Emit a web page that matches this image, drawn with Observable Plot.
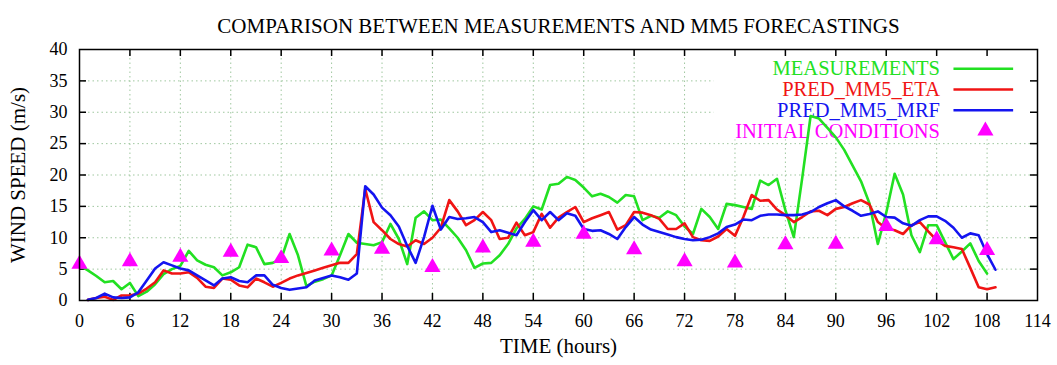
<!DOCTYPE html>
<html>
<head>
<meta charset="utf-8">
<script src="https://cdn.jsdelivr.net/npm/d3@7"></script>
<script src="https://cdn.jsdelivr.net/npm/@observablehq/plot@0.6"></script>
<style>
  html, body { margin: 0; padding: 0; background: #fff; }
  svg { display: block; }
</style>
</head>
<body>
<div id="chart"></div>
<script>
// ---------- data ----------
const titleText = "COMPARISON BETWEEN MEASUREMENTS AND MM5 FORECASTINGS";
const xLabel = "TIME (hours)";
const yLabel = "WIND SPEED (m/s)";

const xTicks = [0, 6, 12, 18, 24, 30, 36, 42, 48, 54, 60, 66, 72, 78, 84, 90, 96, 102, 108, 114];
const yTicks = [0, 5, 10, 15, 20, 25, 30, 35, 40];

// hourly series; first value at the given start hour
const measStart = 0;
const measurements = [
  5.6, 4.8, 3.9, 2.9, 3.1, 1.8, 2.8, 0.7, 1.4, 2.6,
  4.2, 5.0, 5.5, 7.9, 6.4, 5.7, 5.3, 4.0, 4.5, 5.3,
  8.9, 8.5, 5.8, 6.0, 6.6, 10.6, 7.2, 2.3, 3.0, 3.4,
  4.0, 7.2, 10.6, 9.2, 9.0, 8.8, 9.3, 12.2, 9.8, 5.8,
  13.2, 14.2, 12.8, 12.9, 11.5, 10.0, 8.0, 5.2, 5.9, 6.0,
  7.2, 9.0, 11.5, 13.0, 15.0, 14.5, 18.4, 18.6, 19.7, 19.2,
  18.0, 16.6, 17.0, 16.5, 15.6, 16.8, 16.6, 12.8, 13.5, 13.2,
  14.2, 13.6, 11.8, 10.6, 14.6, 13.3, 11.4, 15.4, 15.2, 14.9,
  14.6, 19.1, 18.4, 19.4, 14.4, 10.1, 19.5, 29.4, 29.0, 27.5,
  26.0, 24.0, 21.5, 19.0, 15.5, 9.0, 14.0, 20.2, 16.9, 10.4,
  7.7, 12.0, 12.0, 9.3, 6.6, 7.8, 9.1, 6.3, 4.3
];

const etaStart = 1;
const predEta = [
  0.1, 0.4, 0.6, 0.1, 0.8, 0.8, 1.1, 1.9, 2.9, 4.8,
  4.3, 4.3, 4.5, 3.6, 2.2, 2.0, 3.5, 3.3, 2.4, 2.1,
  3.5, 2.9, 2.2, 2.8, 3.5, 4.0, 4.4, 4.8, 5.2, 5.6,
  6.0, 6.0, 7.4, 17.8, 12.5, 11.2, 9.8, 9.0, 8.6, 9.6,
  9.0, 10.0, 11.6, 16.0, 14.2, 12.0, 12.8, 14.1, 12.8, 9.8,
  10.0, 12.4, 10.4, 10.9, 13.8, 11.6, 13.2, 14.1, 14.9, 12.5,
  13.1, 13.6, 14.1, 11.3, 12.0, 14.1, 14.0, 13.6, 13.0, 11.4,
  11.4, 12.3, 10.1, 9.6, 9.5, 10.2, 11.4, 10.3, 13.3, 16.8,
  15.9, 16.0, 14.5, 13.6, 12.5, 13.3, 14.2, 14.3, 13.6, 14.6,
  14.9, 15.5, 16.0, 15.3, 12.5, 11.5, 11.2, 10.6, 12.0, 12.5,
  11.0, 9.6, 8.7, 8.5, 8.2, 5.2, 2.1, 1.8, 2.1
];

const mrfStart = 1;
const predMrf = [
  0.1, 0.4, 1.1, 0.5, 0.4, 0.5, 1.3, 3.2, 5.1, 6.1,
  5.6, 5.1, 4.8, 4.0, 3.2, 2.4, 3.5, 3.7, 3.1, 2.9,
  4.0, 4.0, 2.5, 2.0, 1.7, 1.9, 2.1, 3.2, 3.6, 4.0,
  3.7, 3.3, 4.3, 18.2, 16.9, 14.8, 13.6, 11.8, 8.7, 6.0,
  10.1, 15.1, 11.3, 13.3, 13.0, 13.1, 13.3, 12.5, 10.9, 11.2,
  10.8, 10.4, 12.5, 14.4, 12.8, 14.1, 12.8, 13.9, 13.5, 11.4,
  11.1, 11.2, 10.6, 9.8, 11.7, 13.3, 12.1, 11.3, 10.9, 10.5,
  10.1, 9.8, 9.6, 9.7, 10.1, 10.7, 11.7, 12.1, 12.9, 12.8,
  13.5, 13.7, 13.7, 13.6, 13.6, 13.7, 14.1, 14.9, 15.5, 16.0,
  15.0, 14.3, 13.5, 13.8, 14.2, 13.3, 13.2, 12.3, 11.9, 12.8,
  13.4, 13.4, 12.7, 11.6, 10.0, 10.7, 10.4, 7.4, 4.9
];

const icTimes = [0, 6, 12, 18, 24, 30, 36, 42, 48, 54, 60, 66, 72, 78, 84, 90, 96, 102, 108];
const icValues = [5.8, 6.2, 6.9, 7.7, 6.7, 7.9, 8.2, 5.3, 8.4, 9.3, 10.6, 8.1, 6.2, 6.0, 8.9, 9.0, 11.8, 9.7, 8.0];

const seriesNames = ["MEASUREMENTS", "PRED_MM5_ETA", "PRED_MM5_MRF", "INITIAL CONDITIONS"];
const seriesColors = ["#22e022", "#f01414", "#1414f0", "#ff00ff"];

// ---------- layout ----------
const W = 1057, H = 365;
const margin = {top: 49, right: 20, bottom: 65, left: 79};
const frameW = W - margin.left - margin.right;
const frameH = H - margin.top - margin.bottom;
const tickLen = 7;
const font = "'Liberation Serif', 'Times New Roman', serif";
// legend placement (in axis units)
const legend = {textX: 102.4, lineX1: 104, lineX2: 111.1, symX: 107.8, topY: 36.95, stepY: 3.31,
                boxX1: 75.5, boxX2: 114, boxY1: 25.6, boxY2: 40};

// ---------- tables ----------
const toRows = (arr, start) => arr.map((v, i) => ({t: start + i, v}));
const measRows = toRows(measurements, measStart);
const etaRows = toRows(predEta, etaStart);
const mrfRows = toRows(predMrf, mrfStart);
const icRows = icTimes.map((t, i) => ({t, v: icValues[i]}));
const legendRows = seriesNames.map((name, i) => ({
  name, color: seriesColors[i], y: legend.topY - i * legend.stepY, line: i < 3
}));

const gridStyle = {stroke: "#9fc79f", strokeOpacity: 1, strokeWidth: 1, strokeDasharray: "1.5,3"};
const innerX = xTicks.slice(1, -1);
const innerY = yTicks.slice(1, -1);

const plot = Plot.plot({
  width: W,
  height: H,
  marginTop: margin.top,
  marginRight: margin.right,
  marginBottom: margin.bottom,
  marginLeft: margin.left,
  style: {fontFamily: font, fontSize: "18px", background: "#fff", color: "#000"},
  x: {domain: [0, 114]},
  y: {domain: [0, 40]},
  marks: [
    Plot.gridX(innerX, gridStyle),
    Plot.gridY(innerY, gridStyle),
    Plot.rect([legend], {x1: "boxX1", x2: "boxX2", y1: "boxY1", y2: "boxY2", fill: "#fff"}),
    // inward ticks on all four sides
    Plot.tickX(innerX, {x: d => d, insetTop: frameH - tickLen, stroke: "#000", strokeWidth: 1.5}),
    Plot.tickX(innerX, {x: d => d, insetBottom: frameH - tickLen, stroke: "#000", strokeWidth: 1.5}),
    Plot.tickY(innerY, {y: d => d, insetRight: frameW - tickLen, stroke: "#000", strokeWidth: 1.5}),
    Plot.tickY(innerY, {y: d => d, insetLeft: frameW - tickLen, stroke: "#000", strokeWidth: 1.5}),
    Plot.axisX({ticks: xTicks, tickSize: 0, tickPadding: 14, tickFormat: d => String(d), label: null}),
    Plot.axisY({ticks: yTicks, tickSize: 0, tickPadding: 12, tickFormat: d => String(d), label: null}),
    Plot.text([xLabel], {frameAnchor: "bottom", dy: 52, fontSize: 21, fill: "#000"}),
    Plot.text([yLabel], {frameAnchor: "left", textAnchor: "middle", dx: -61, rotate: -90, fontSize: 21, fill: "#000"}),
    // legend
    Plot.text(legendRows, {x: () => legend.textX, y: "y", text: "name", fill: "color",
      textAnchor: "end", fontSize: 20.5}),
    Plot.link(legendRows.filter(d => d.line), {x1: () => legend.lineX1, x2: () => legend.lineX2,
      y1: "y", y2: "y", stroke: "color", strokeWidth: 2.5}),
    Plot.dot(legendRows.filter(d => !d.line), {x: () => legend.symX, y: "y", symbol: "triangle",
      r: 6, fill: "color", stroke: "none"}),
    // data
    Plot.line(measRows, {x: "t", y: "v", stroke: seriesColors[0], strokeWidth: 2.6, strokeLinejoin: "round"}),
    Plot.line(etaRows, {x: "t", y: "v", stroke: seriesColors[1], strokeWidth: 2.6, strokeLinejoin: "round"}),
    Plot.line(mrfRows, {x: "t", y: "v", stroke: seriesColors[2], strokeWidth: 2.6, strokeLinejoin: "round"}),
    Plot.dot(icRows, {x: "t", y: "v", symbol: "triangle", r: 6, fill: seriesColors[3], stroke: "none"}),
    Plot.frame({stroke: "#000", strokeWidth: 1.5}),
    // title
    Plot.text([titleText], {frameAnchor: "top", dy: -31, fontSize: 21, fill: "#000"})
  ]
});
document.getElementById("chart").appendChild(plot);
</script>
</body>
</html>
